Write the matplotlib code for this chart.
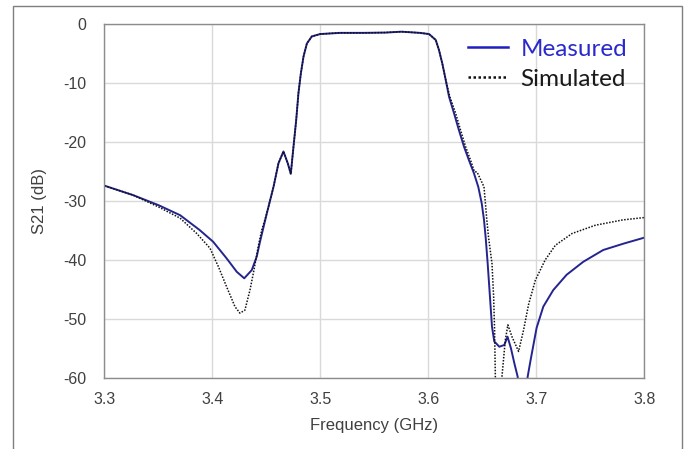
import matplotlib
matplotlib.use("Agg")
import matplotlib.pyplot as plt
from matplotlib.patches import Rectangle

plt.rcParams["axes.unicode_minus"] = False
plt.rcParams["font.family"] = ["Liberation Sans", "DejaVu Sans"]

# Measured S21 (GHz, dB)
meas_freq = [
    3.300, 3.3265, 3.350, 3.370, 3.388, 3.4006, 3.413, 3.4225, 3.4294, 3.4364,
    3.441, 3.444, 3.4503, 3.4565, 3.4611, 3.4657, 3.4697, 3.4725, 3.475, 3.4775,
    3.4796, 3.4818, 3.4843, 3.4874, 3.492, 3.4997, 3.518, 3.540, 3.560, 3.575,
    3.592, 3.6005, 3.6067, 3.6097, 3.6128, 3.6153, 3.619, 3.6236, 3.6282, 3.6329,
    3.6375, 3.6421, 3.6461, 3.6493, 3.6514, 3.653, 3.6548, 3.6569, 3.6588, 3.6609,
    3.6656, 3.6702, 3.6732, 3.6764, 3.6795, 3.6826, 3.687, 3.6918, 3.6945, 3.7001,
    3.7063, 3.7155, 3.7279, 3.7433, 3.7618, 3.781, 3.800,
]
meas_db = [
    -27.4, -29.0, -30.7, -32.4, -34.9, -36.9, -39.7, -42.0, -43.1, -41.7,
    -39.4, -36.9, -32.1, -27.6, -23.6, -21.6, -23.6, -25.4, -20.8, -16.3,
    -11.7, -8.4, -5.5, -3.3, -2.1, -1.7, -1.5, -1.5, -1.45, -1.3,
    -1.5, -1.7, -2.7, -4.4, -6.7, -8.9, -12.3, -15.1, -18.0, -20.8,
    -23.1, -25.3, -27.6, -30.4, -33.2, -36.3, -40.6, -46.2, -51.3, -53.8,
    -54.7, -54.4, -53.0, -55.0, -57.5, -59.8, -75.0, -59.8, -57.0, -51.5,
    -47.9, -45.1, -42.5, -40.3, -38.3, -37.2, -36.2,
]

# Simulated S21 (GHz, dB)
sim_freq = [
    3.300, 3.3265, 3.350, 3.370, 3.3854, 3.3977, 3.4054, 3.413, 3.4208, 3.4254,
    3.430, 3.4347, 3.4384, 3.4424, 3.4455, 3.4503, 3.4565, 3.4611, 3.4657, 3.4697,
    3.4725, 3.475, 3.4775, 3.4796, 3.4818, 3.4843, 3.4874, 3.492, 3.4997, 3.518,
    3.540, 3.560, 3.575, 3.592, 3.6005, 3.6067, 3.6097, 3.6128, 3.6153, 3.6197,
    3.6251, 3.6297, 3.6344, 3.639, 3.6425, 3.645, 3.6514, 3.654, 3.6557, 3.6588,
    3.6603, 3.6612, 3.6619, 3.665, 3.668, 3.6711, 3.6735, 3.6773, 3.6834, 3.688,
    3.6927, 3.699, 3.708, 3.7175, 3.733, 3.7546, 3.780, 3.800,
]
sim_db = [
    -27.4, -29.0, -31.0, -32.9, -35.5, -38.0, -41.1, -44.5, -47.9, -49.0,
    -48.5, -45.1, -41.7, -37.7, -35.0, -32.1, -27.6, -23.6, -21.6, -23.6,
    -25.4, -20.8, -16.3, -11.7, -8.4, -5.5, -3.3, -2.1, -1.7, -1.5,
    -1.5, -1.45, -1.3, -1.5, -1.7, -2.7, -4.4, -6.7, -8.9, -12.3,
    -15.1, -18.0, -20.8, -23.1, -25.0, -25.1, -27.6, -33.2, -36.3, -40.6,
    -46.2, -51.9, -59.8, -75.0, -59.8, -53.6, -51.0, -53.0, -55.5, -51.9,
    -47.5, -43.4, -40.0, -37.5, -35.5, -34.1, -33.2, -32.8,
]

x_ticks = [3.3, 3.4, 3.5, 3.6, 3.7, 3.8]
y_ticks = [0, -10, -20, -30, -40, -50, -60]

fig = plt.figure(figsize=(6.91, 4.49), dpi=100)
ax = fig.add_axes([0.1512, 0.1581, 0.7815, 0.7884])

ax.plot(meas_freq, meas_db, color="#24248f", lw=1.4, label="Measured")
ax.plot(sim_freq, sim_db, color="#111111", lw=1.1, linestyle=(0, (1, 1)), label="Simulated")

ax.set_xlim(3.3, 3.8)
ax.set_ylim(-60, 0)
ax.set_xticks(x_ticks)
ax.set_xticklabels([f"{t:.1f}" for t in x_ticks])
ax.set_yticks(y_ticks)
ax.set_yticklabels([str(t) for t in y_ticks])
ax.tick_params(axis="both", length=0, labelsize=11.5, colors="#404040")
ax.tick_params(axis="y", pad=13)
ax.tick_params(axis="x", pad=10)
ax.grid(True, color="#d9d9d9", lw=1)
ax.set_axisbelow(True)
for spine in ax.spines.values():
    spine.set_color("#8c8c8c")
    spine.set_linewidth(1)

ax.set_xlabel("Frequency (GHz)", fontsize=12, color="#404040", labelpad=8)
ax.set_ylabel("S21 (dB)", fontsize=12, color="#404040", labelpad=12)

leg = ax.legend(
    loc="upper right",
    bbox_to_anchor=(0.968, 0.958),
    frameon=False,
    prop={"family": ["Lato", "DejaVu Sans"], "size": 17.5},
    handlelength=1.65,
    handletextpad=0.5,
    labelspacing=0.37,
    borderpad=0,
    borderaxespad=0,
    labelcolor=["#2a2acc", "#1a1a1a"],
)
leg.get_lines()[0].set_color("#1f1fc0")
leg.get_lines()[0].set_linewidth(1.8)
leg.get_lines()[1].set_linewidth(1.8)

# thin border around the whole chart
fig.patches.append(
    Rectangle((13 / 691, -0.01), (682 - 13) / 691, 1.01 - 6 / 449,
              transform=fig.transFigure, fill=False, edgecolor="#7f7f7f", lw=1)
)

fig.savefig("out.png", dpi=100)
